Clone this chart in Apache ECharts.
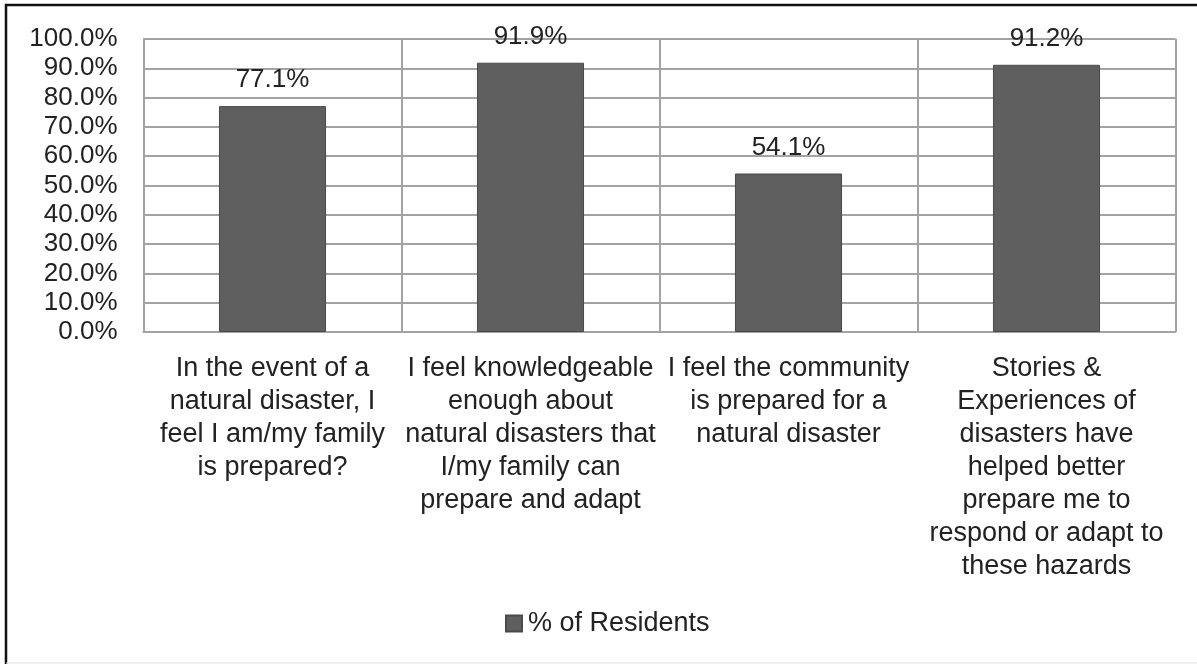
<!DOCTYPE html>
<html>
<head>
<meta charset="utf-8">
<style>
  html, body { margin: 0; padding: 0; background: #ffffff; }
  #chart { width: 1197px; height: 664px; }
</style>
<script src="https://cdn.jsdelivr.net/npm/echarts@6/dist/echarts.min.js"></script>
</head>
<body>
<div id="chart"></div>
<script>
// Survey statements (wrapped as shown under each bar)
const categories = [
  'In the event of a\nnatural disaster, I\nfeel I am/my family\nis prepared?',
  'I feel knowledgeable\nenough about\nnatural disasters that\nI/my family can\nprepare and adapt',
  'I feel the community\nis prepared for a\nnatural disaster',
  'Stories &\nExperiences of\ndisasters have\nhelped better\nprepare me to\nrespond or adapt to\nthese hazards'
];
// Share of residents agreeing, in percent
const residents = [77.1, 91.9, 54.1, 91.2];
const seriesName = '% of Residents';
const yTicks = { min: 0, max: 100, interval: 10 };

const FONT = '"Liberation Sans", Arial, sans-serif';
const TEXT = '#222222';
const GRID = '#a3a3a3';

const chart = echarts.init(document.getElementById('chart'), null, { renderer: 'canvas' });
chart.setOption({
  backgroundColor: '#ffffff',
  animation: false,
  grid: { left: 143.5, right: 21.5, top: 39, bottom: 332, containLabel: false },
  legend: {
    data: [seriesName],
    top: 610,
    left: 505,
    icon: 'rect',
    itemWidth: 16,
    itemHeight: 16,
    itemGap: 10,
    padding: 0,
    textStyle: { fontFamily: FONT, fontSize: 27, color: TEXT, padding: [0, 0, 0, 1] }
  },
  xAxis: {
    type: 'category',
    data: categories,
    axisLine: { show: true, lineStyle: { color: GRID, width: 2 } },
    axisTick: { show: false },
    splitLine: { show: true, interval: 0, lineStyle: { color: GRID, width: 2 } },
    axisLabel: {
      interval: 0,
      margin: 20,
      fontFamily: FONT,
      fontSize: 27,
      lineHeight: 33,
      color: TEXT,
      align: 'center',
      verticalAlign: 'top'
    }
  },
  yAxis: {
    type: 'value',
    min: yTicks.min,
    max: yTicks.max,
    interval: yTicks.interval,
    axisLine: { show: true, lineStyle: { color: GRID, width: 2 } },
    axisTick: { show: false },
    splitLine: { show: true, lineStyle: { color: GRID, width: 2 } },
    axisLabel: {
      margin: 26,
      fontFamily: FONT,
      fontSize: 26,
      color: TEXT,
      formatter: v => v.toFixed(1) + '%'
    }
  },
  series: [{
    name: seriesName,
    type: 'bar',
    data: residents,
    barWidth: '41.5%',
    itemStyle: { color: '#5f5f5f', borderColor: '#4a4a4a', borderWidth: 1 },
    label: {
      show: true,
      position: 'top',
      distance: 13,
      fontFamily: FONT,
      fontSize: 26,
      color: TEXT,
      formatter: p => p.value.toFixed(1) + '%'
    }
  }],
  graphic: [
    // outer frame: top and left edges
    { type: 'line', shape: { x1: 5, y1: 5, x2: 1197, y2: 5 }, style: { stroke: '#111111', lineWidth: 2.5 }, silent: true },
    { type: 'line', shape: { x1: 6, y1: 4, x2: 6, y2: 664 }, style: { stroke: '#111111', lineWidth: 2.5 }, silent: true },
    { type: 'line', shape: { x1: 6, y1: 663, x2: 1197, y2: 663 }, style: { stroke: '#e4e4e4', lineWidth: 1 }, silent: true }
  ]
});
</script>
</body>
</html>
